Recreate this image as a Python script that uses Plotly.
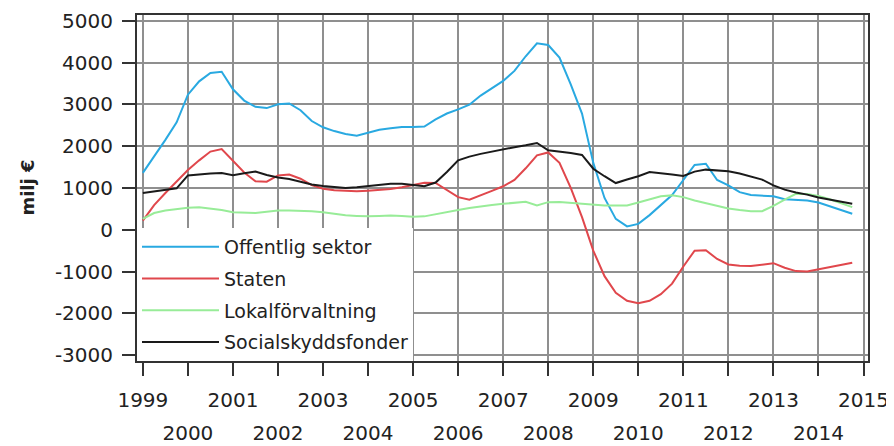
import plotly.graph_objects as go

# Quarterly observations 1999Q1 .. 2014Q4 (milj €)
start_year = 1999
n_quarters = 64
quarters = [start_year + k / 4 for k in range(n_quarters)]

offentlig_sektor = [
    1360, 1750, 2150, 2570, 3230, 3550, 3750, 3780,
    3360, 3090, 2940, 2910, 3000, 3020, 2860, 2600,
    2450, 2360, 2290, 2250, 2320, 2390, 2430, 2460,
    2460, 2470, 2640, 2780, 2880, 2990, 3210, 3390,
    3560, 3800, 4150, 4460, 4420, 4120, 3480, 2780,
    1600, 760, 260, 80, 140, 350, 580, 830,
    1190, 1550, 1580, 1190, 1060, 900, 830, 810,
    800, 730, 720, 700, 650, 560, 470, 383,
]
staten = [
    220, 590, 880, 1160, 1430, 1660, 1870, 1930,
    1640, 1370, 1160, 1150, 1300, 1320, 1220, 1070,
    980, 945, 930, 920, 935, 955, 975, 1015,
    1070, 1125, 1120, 960, 780, 720, 820, 930,
    1040, 1190, 1470, 1780, 1850, 1600, 1000, 300,
    -500, -1110, -1510, -1700, -1760, -1700, -1540, -1290,
    -880, -500, -490, -700, -830, -860, -870, -840,
    -800, -910, -990, -1000, -950, -900, -840, -790,
]
lokalforvaltning = [
    260, 400, 460, 500, 525, 540, 510, 470,
    420, 410, 400, 430, 460, 460, 455, 440,
    420, 380, 345, 330, 320, 330, 340, 330,
    310, 320, 365, 420, 470, 520, 560, 590,
    620, 650, 670, 582, 660, 665, 645, 610,
    590, 582, 582, 582, 650, 730, 800, 822,
    780, 700, 640, 580, 510, 470, 440, 445,
    570, 720, 860, 855, 810, 730, 640, 542,
]
socialskyddsfonder = [
    880, 915, 950, 990, 1300, 1330, 1345, 1355,
    1305, 1350, 1395, 1310, 1250, 1215, 1150, 1080,
    1045, 1020, 1000, 1015, 1040, 1075, 1100, 1102,
    1065, 1040, 1130, 1380, 1660, 1750, 1815, 1870,
    1930, 1975, 2020, 2076, 1900, 1870, 1835, 1790,
    1460, 1280, 1117, 1200, 1280, 1380, 1355, 1320,
    1285, 1390, 1438, 1420, 1400, 1345, 1280, 1200,
    1060, 960, 890, 840, 770, 720, 670, 623,
]

series_names = ["Offentlig sektor", "Staten", "Lokalförvaltning", "Socialskyddsfonder"]
series_values = [offentlig_sektor, staten, lokalforvaltning, socialskyddsfonder]
series_colors = ["#29a9e1", "#e0474c", "#98ec98", "#1a1a1a"]

year_ticks = list(range(1999, 2016))
odd_labels = [str(y) if y % 2 == 1 else "" for y in year_ticks]
even_years = [y for y in year_ticks if y % 2 == 0]
even_labels = [str(y) for y in even_years]
y_ticks = list(range(-3000, 5001, 1000))
y_labels = [str(v) for v in y_ticks]
y_title = "milj €"

FONT = "DejaVu Sans"
TXT = "#222222"
GRID = "#8f8f8f"

fig = go.Figure()
for i, (name, vals, col) in enumerate(zip(series_names, series_values, series_colors)):
    fig.add_trace(go.Scatter(
        x=quarters, y=vals, name=name, mode="lines",
        line=dict(color=col, width=2),
        legendgroup=str(i),
    ))
# carrier for the second (even-year) label row; draws nothing
fig.add_trace(go.Scatter(
    x=[year_ticks[0]], y=[0], xaxis="x2", mode="markers",
    marker=dict(opacity=0), showlegend=False, hoverinfo="skip",
))

xr = [1998.87, 2015.10]
# the page body adds an 8px offset, so the figure is 8px smaller and margins shifted
fig.update_layout(
    width=886, height=438,
    margin=dict(l=129, r=26, t=7, b=85, autoexpand=False),
    paper_bgcolor="white", plot_bgcolor="white",
    font=dict(family=FONT, size=20, color=TXT),
    showlegend=True,
    legend=dict(
        x=0, y=0, xanchor="left", yanchor="bottom",
        bgcolor="white", borderwidth=0,
        font=dict(family=FONT, size=19, color=TXT),
        itemwidth=77, tracegroupgap=4,
    ),
    xaxis=dict(
        range=xr, tickmode="array", tickvals=year_ticks, ticktext=odd_labels,
        ticks="outside", ticklen=13, tickwidth=1.5, tickcolor="#333333",
        showgrid=True, gridcolor=GRID, gridwidth=1.5,
        showline=True, linecolor="#333333", linewidth=2, mirror=True,
        zeroline=False, automargin=False, ticklabelstandoff=7,
        tickfont=dict(family=FONT, size=20, color=TXT),
    ),
    xaxis2=dict(
        range=xr, overlaying="x", anchor="y", side="bottom",
        tickmode="array", tickvals=even_years, ticktext=even_labels,
        ticks="", showgrid=False, showline=False, zeroline=False,
        ticklabelstandoff=58, automargin=False,
        tickfont=dict(family=FONT, size=20, color=TXT),
    ),
    yaxis=dict(
        range=[-3140, 5137], tickmode="array", tickvals=y_ticks, ticktext=y_labels,
        ticks="outside", ticklen=13, tickwidth=1.5, tickcolor="#333333",
        showgrid=True, gridcolor=GRID, gridwidth=1.5,
        showline=True, linecolor="#333333", linewidth=2, mirror=True,
        zeroline=False, automargin=False, ticklabelstandoff=5,
        tickfont=dict(family=FONT, size=20, color=TXT),
    ),
    annotations=[dict(
        text="<b>" + y_title + "</b>", textangle=-90,
        xref="paper", yref="paper", x=-0.151, y=0.5,
        xanchor="center", yanchor="middle", showarrow=False,
        font=dict(family=FONT, size=18, color=TXT),
    )],
)

fig.write_html("out.html")
